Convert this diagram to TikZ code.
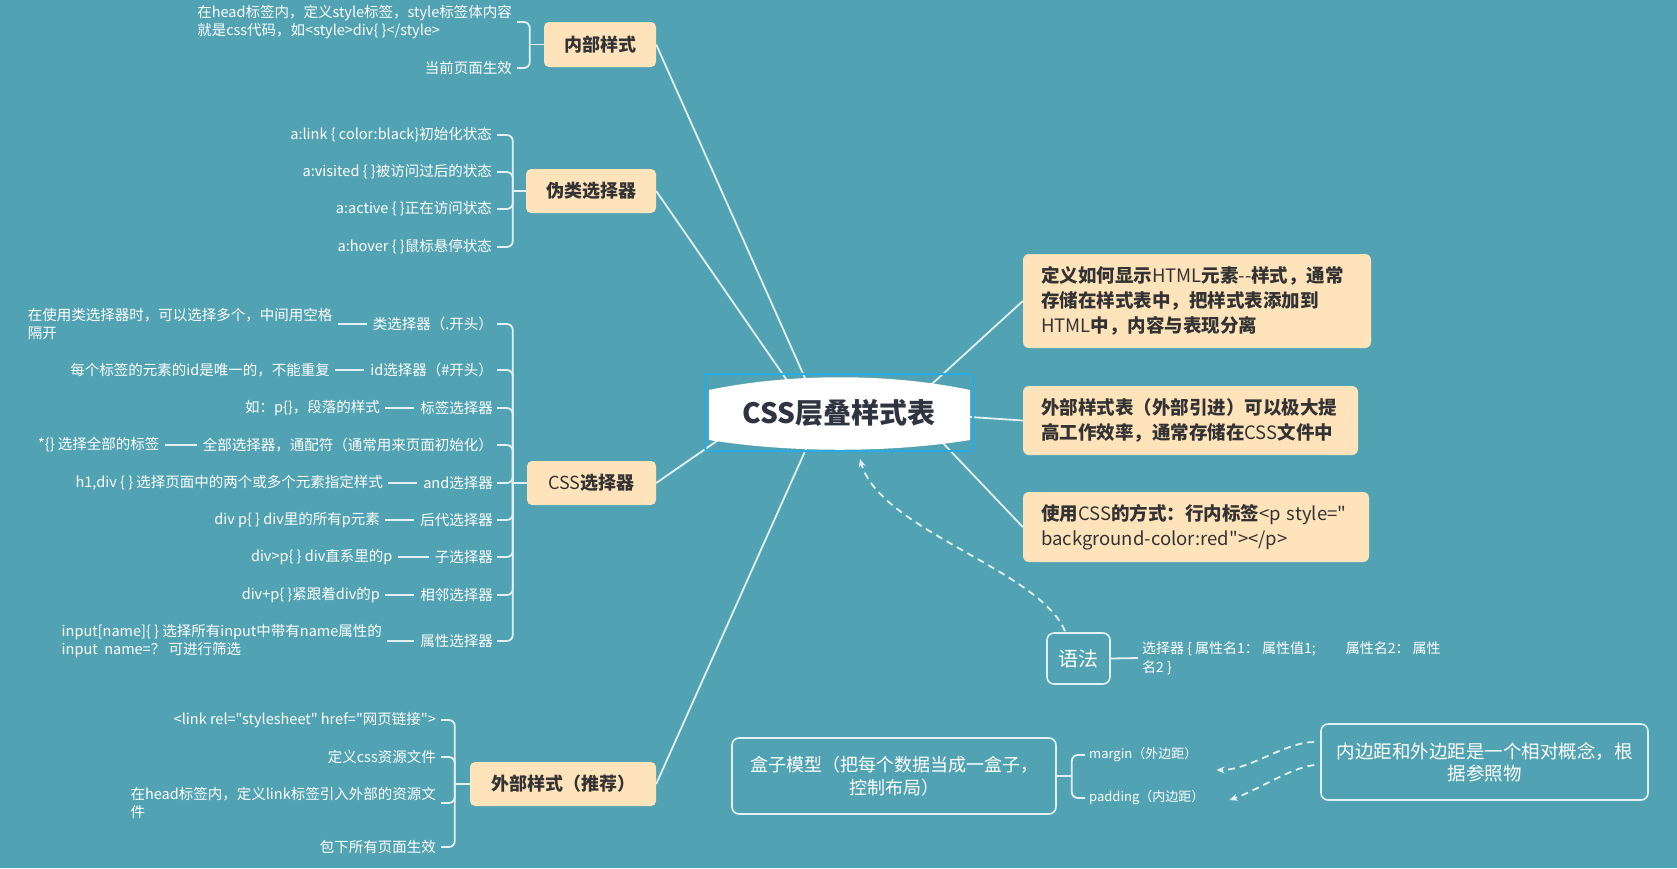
\documentclass[tikz,border=0pt]{standalone}
\usepackage{fontspec}
\setmainfont{Noto Sans CJK SC}[Ligatures=TeXOff]
\usetikzlibrary{calc,arrows.meta}
\definecolor{bgc}{HTML}{51A3B4}
\definecolor{peach}{HTML}{FFE4BB}
\definecolor{dark}{HTML}{333333}
\definecolor{linec}{HTML}{E2F0F3}
\definecolor{cblue}{HTML}{2BAAE2}
\definecolor{ctext}{HTML}{2E3440}
\pgfdeclarelayer{bg}\pgfdeclarelayer{edges}\pgfdeclarelayer{shape}
\pgfsetlayers{bg,edges,shape,main}
\tikzset{
  topic/.style={fill=peach, rounded corners=5pt, text=dark, font=\fontsize{18}{22}\selectfont\bfseries, inner sep=0pt},
  leaf/.style={text=white, font=\fontsize{14.5}{18}\selectfont, inner sep=0pt, anchor=east},
  leafl/.style={leaf, align=left},
  edge/.style={draw=linec, line width=1.8pt},
  brace/.style={edge, rounded corners=6pt},
  note/.style={fill=peach, rounded corners=6pt, text=dark, font=\fontsize{18.5}{25}\selectfont, align=left, inner xsep=18pt, inner ysep=0pt},
  frame/.style={draw=linec, line width=1.6pt, rounded corners=7pt, text=white, inner sep=0pt},
  darrow/.style={draw=linec, line width=1.8pt, dash pattern=on 7pt off 5pt, -{Stealth[length=8pt,width=7pt]}},
}
\begin{document}
\begin{tikzpicture}[x=1pt,y=-1pt]
\begin{pgfonlayer}{bg}
\fill[bgc] (0,0) rectangle (1677,868);
\end{pgfonlayer}
\useasboundingbox (0,0) rectangle (1677,868);

% central
\node[draw=cblue, line width=2pt, rounded corners=3pt, minimum width=268pt, minimum height=77pt, inner sep=0pt, text=ctext, font=\fontsize{28}{34}\selectfont\bfseries] (c) at (839,412.5) {CSS层叠样式表};
\begin{pgfonlayer}{shape}
\fill[white] (709,390) .. controls (790,373) and (890,373) .. (970,390) -- (970,440) .. controls (890,453) and (790,453) .. (709,440) -- cycle;
\end{pgfonlayer}

% topics
\node[topic, minimum width=112pt, minimum height=45pt] (p1) at (600,44.5) {内部样式};
\node[topic, minimum width=130pt, minimum height=44pt] (p2) at (591,191) {伪类选择器};
\node[topic, minimum width=129pt, minimum height=44pt] (p3) at (591.5,483) {\mdseries CSS\bfseries 选择器};
\node[topic, minimum width=186pt, minimum height=44pt] (p4) at (563,784) {外部样式（推荐）};

% right notes
\node[note, text width=312pt, minimum height=94pt] (r1) at (1197,301) {\textbf{定义如何显示}HTML\textbf{元素}--\textbf{样式，通常}\\\textbf{存储在样式表中，把样式表添加到}\\HTML\textbf{中，内容与表现分离}};
\node[note, text width=299pt, minimum height=69pt] (r2) at (1190.5,420.5) {\textbf{外部样式表（外部引进）可以极大提}\\\textbf{高工作效率，通常存储在}CSS\textbf{文件中}};
\node[note, text width=310pt, minimum height=70pt] (r3) at (1196,527) {\textbf{使用}CSS\textbf{的方式：行内标签}<p~style="\\background-color:red"></p>};

% inner style leaves
\node[leafl] (c11) at (512,22) {在head标签内，定义style标签，style标签体内容\\就是css代码，如<style>div\{ \}</style>};
\node[leaf] (c12) at (512,68) {当前页面生效};
\coordinate (j1) at ($(p1.west)+(-14,0)$);

% pseudo leaves
\node[leaf] (a1) at (492,135) {a:link \{ color:black\}初始化状态};
\node[leaf] (a2) at (492,172) {a:visited \{ \}被访问过后的状态};
\node[leaf] (a3) at (492,209) {a:active \{ \}正在访问状态};
\node[leaf] (a4) at (492,247) {a:hover \{ \}鼠标悬停状态};
\coordinate (j2) at ($(p2.west)+(-13,0)$);

% selectors
\node[leaf] (s1) at (493,324) {类选择器（.开头）};
\node[leaf] (s2) at (493,370) {id选择器（\#开头）};
\node[leaf] (s3) at (493,408) {标签选择器};
\node[leaf] (s4) at (493,445) {全部选择器，通配符（通常用来页面初始化）};
\node[leaf] (s5) at (493,483) {and选择器};
\node[leaf] (s6) at (493,520) {后代选择器};
\node[leaf] (s7) at (493,557) {子选择器};
\node[leaf] (s8) at (493,595) {相邻选择器};
\node[leaf] (s9) at (493,641) {属性选择器};
\coordinate (j3) at ($(p3.west)+(-14,0)$);

\node[leafl] (g1) at ($(s1.west)+(-40,0)$) {在使用类选择器时，可以选择多个，中间用空格\\隔开};
\node[leaf] (g2) at ($(s2.west)+(-40,0)$) {每个标签的元素的id是唯一的，不能重复};
\node[leaf] (g3) at ($(s3.west)+(-40,0)$) {如：p\{\}，段落的样式};
\node[leaf] (g4) at ($(s4.west)+(-43,0)$) {*\{\} 选择全部的标签};
\node[leaf] (g5) at ($(s5.west)+(-40,0)$) {h1,div \{ \} 选择页面中的两个或多个元素指定样式};
\node[leaf] (g6) at ($(s6.west)+(-40,0)$) {div p\{ \} div里的所有p元素};
\node[leaf] (g7) at ($(s7.west)+(-42,0)$) {div>p\{ \} div直系里的p};
\node[leaf] (g8) at ($(s8.west)+(-40,0)$) {div+p\{ \}紧跟着div的p};
\node[leafl] (g9) at ($(s9.west)+(-38,0)$) {input[name]\{ \} 选择所有input中带有name属性的\\input\ \ name=？ 可进行筛选};

% external leaves
\node[leaf] (e1) at (436,720) {<link rel="stylesheet" href="网页链接">};
\node[leaf] (e2) at (436,757) {定义css资源文件};
\node[leafl] (e3) at (436,803) {在head标签内，定义link标签引入外部的资源文\\件};
\node[leaf] (e4) at (436,847) {包下所有页面生效};
\coordinate (j4) at ($(p4.west)+(-15,0)$);

% syntax
\node[frame, minimum width=63pt, minimum height=51pt, font=\fontsize{20}{24}\selectfont] (yf) at (1078.5,658.5) {语法};
\node[leafl, anchor=west, font=\fontsize{14}{19}\selectfont] (yt) at (1142,658) {选择器 \{ 属性名1： 属性值1;\hspace{30pt}属性名2： 属性\\名2 \}};

% box model
\node[frame, minimum width=324pt, minimum height=76pt, align=center, font=\fontsize{18}{23}\selectfont] (bm) at (894,776) {盒子模型（把每个数据当成一盒子，\\控制布局）};
\coordinate (j5) at ($(bm.east)+(15,0)$);
\node[leaf, anchor=west, font=\fontsize{13}{16}\selectfont] (mg) at (1089,755) {margin（外边距）};
\node[leaf, anchor=west, font=\fontsize{13}{16}\selectfont] (pd) at (1089,798) {padding（内边距）};
\node[frame, minimum width=327pt, minimum height=76pt, align=center, font=\fontsize{18.5}{22}\selectfont] (nt) at (1484.5,762) {内边距和外边距是一个相对概念，根\\据参照物};

\begin{pgfonlayer}{edges}
\draw[edge] (p1.east) -- ($(c)+(-22,-7.5)$);
\draw[edge] (p2.east) -- ($(c)+(-35,-7.5)$);
\draw[edge] (p3.east) -- ($(c)+(-99,12.5)$);
\draw[edge] (p4.east) -- ($(c)+(-20,7.5)$);
\draw[edge] (r1.west) -- ($(c)+(70,-7.5)$);
\draw[edge] (r2.west) -- ($(c)+(101,2.5)$);
\draw[edge] (r3.west) -- ($(c)+(82,7.5)$);

\draw[brace] ([xshift=5pt]c11.east) -| (j1);
\draw[brace] ([xshift=5pt]c12.east) -| (j1);
\draw[edge] (j1) -- (p1.west);

\foreach \n in {a1,a2,a3,a4} \draw[brace] ([xshift=5pt]\n.east) -| (j2);
\draw[edge] (j2) -- (p2.west);

\foreach \i in {1,...,9} {
  \draw[brace] ([xshift=4pt]s\i.east) -| (j3);
  \draw[edge] ($(g\i.east |- s\i.west)+(5,0)$) -- ($(s\i.west)+(-6,0)$);
}
\draw[edge] (j3) -- (p3.west);

\foreach \n in {e1,e2,e3,e4} \draw[brace] ([xshift=5pt]\n.east) -| (j4);
\draw[edge] (j4) -- (p4.west);

\draw[edge] (yf.east) -- ([xshift=-4pt]yt.west);
\draw[darrow] ($(yf.north)+(-13.5,-1)$) .. controls (1040,570) and (880,530) .. ($(c.south)+(21,7)$);

\draw[edge] (bm.east) -- (j5);
\draw[brace] (j5) |- ([xshift=-4pt]mg.west);
\draw[brace] (j5) |- ([xshift=-4pt]pd.west);
\draw[darrow] ($(nt.west)+(-6,-20)$) .. controls (1285,742) and (1250,770) .. ($(mg.east)+(19,15)$);
\draw[darrow] ($(nt.west)+(-6,3)$) .. controls (1290,768) and (1258,790) .. ($(pd.east)+(25,2)$);
\end{pgfonlayer}
\end{tikzpicture}
\end{document}
